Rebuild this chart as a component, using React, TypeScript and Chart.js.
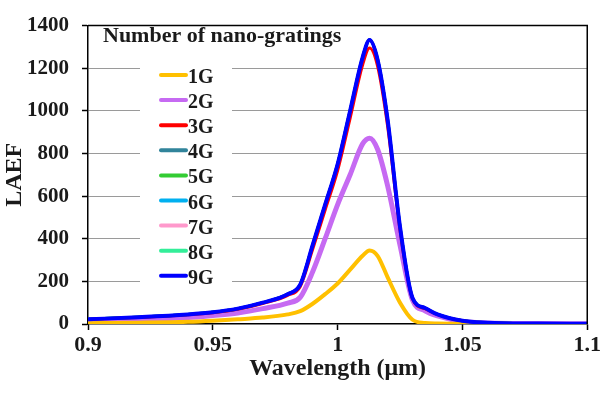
import React, { useEffect, useRef } from "react";
import { Chart, registerables } from "chart.js";

Chart.register(...registerables);

const wavelengths = [0.9, 0.92, 0.94, 0.95, 0.96, 0.97, 0.98, 0.985, 0.99, 0.995, 1.0, 1.005, 1.01, 1.0128, 1.016, 1.02, 1.025, 1.03, 1.035, 1.04, 1.05, 1.06, 1.08, 1.1];

const g1 = [4, 6, 10, 15, 22, 30, 45, 60, 95, 140, 190, 255, 320, 345, 320, 220, 100, 20, 5, 2, 1, 0.5, 0.3, 0.2];
const g2 = [13, 20, 30, 40, 52, 72, 98, 125, 245, 400, 560, 700, 845, 872, 820, 650, 370, 112, 62, 38, 12, 5, 2, 1];
const g3 = [21, 31, 43, 53, 69, 96, 134, 175, 350, 535, 720, 965, 1215, 1295, 1210, 930, 440, 118, 72, 44, 15, 6, 2, 1];
const g9 = [22, 32, 45, 55, 72, 100, 140, 185, 370, 560, 750, 1000, 1250, 1332, 1240, 960, 455, 122, 75, 45, 15, 6, 2, 1];

const seriesNames = ["1G", "2G", "3G", "4G", "5G", "6G", "7G", "8G", "9G"];
const seriesColors = ["#FFC000", "#C66AF2", "#FF0000", "#31849B", "#33CC33", "#00B0F0", "#FF99CC", "#33EE99", "#0000FF"];
const seriesValues = [g1, g2, g3, g9, g9, g9, g9, g9, g9];
const seriesWidths = [4, 5, 3, 3, 3, 3, 3, 3, 4];
const seriesOrder = [3, 3, 1, 2, 2, 2, 2, 2, 0];

const yTicks = [0, 200, 400, 600, 800, 1000, 1200, 1400];
const xTicks = [0.9, 0.95, 1, 1.05, 1.1];

const legendTitle = "Number of nano-gratings";
const xTitle = "Wavelength (\u03bcm)";
const yTitle = "LAEF";

const FONT = "'Liberation Serif', 'Times New Roman', serif";

const framePlugin = {
  id: "frameAndLegend",
  afterDraw(chart: any) {
    const { ctx, chartArea } = chart;
    const { left, right, top, bottom } = chartArea;
    ctx.save();
    ctx.strokeStyle = "#000";
    ctx.lineWidth = 1.5;
    ctx.beginPath();
    ctx.moveTo(left, top);
    ctx.lineTo(right, top);
    ctx.lineTo(right, bottom);
    ctx.stroke();
    ctx.fillStyle = "#fff";
    ctx.fillRect(140, 62, 92, 226);
    ctx.fillStyle = "#1a1a1a";
    ctx.font = `bold 22px ${FONT}`;
    ctx.textBaseline = "alphabetic";
    ctx.textAlign = "left";
    ctx.fillText(legendTitle, 103, 42);
    ctx.font = `bold 20px ${FONT}`;
    seriesNames.forEach((name, i) => {
      const y = 75 + i * 25.1;
      ctx.strokeStyle = seriesColors[i];
      ctx.lineWidth = 4;
      ctx.lineCap = "round";
      ctx.beginPath();
      ctx.moveTo(161, y);
      ctx.lineTo(186, y);
      ctx.stroke();
      ctx.fillStyle = "#1a1a1a";
      ctx.fillText(name, 188, y + 8);
    });
    ctx.restore();
  },
};

export default function App() {
  const ref = useRef<HTMLCanvasElement | null>(null);
  useEffect(() => {
    document.body.style.margin = "0";
    const canvas = ref.current!;
    const chart = new Chart(canvas, {
      type: "line",
      data: {
        datasets: seriesNames.map((name, i) => ({
          label: name,
          data: wavelengths.map((w, j) => ({ x: w, y: seriesValues[i][j] })),
          borderColor: seriesColors[i],
          backgroundColor: seriesColors[i],
          borderWidth: seriesWidths[i],
          pointRadius: 0,
          cubicInterpolationMode: "monotone" as const,
          order: seriesOrder[i],
          fill: false,
        })),
      },
      options: {
        animation: false,
        responsive: false,
        maintainAspectRatio: false,
        layout: { padding: { top: 12, right: 14, left: 0, bottom: 18 } },
        plugins: {
          legend: { display: false },
          tooltip: { enabled: false },
        },
        scales: {
          x: {
            type: "linear",
            min: 0.9,
            max: 1.1,
            afterBuildTicks: (scale: any) => {
              scale.ticks = xTicks.map((v) => ({ value: v }));
            },
            afterFit: (scale: any) => {
              scale.height = 59;
            },
            ticks: {
              color: "#1a1a1a",
              font: { family: FONT, size: 22, weight: "bold" },
              padding: 2,
              maxRotation: 0,
              autoSkip: false,
              callback: (v: any) => String(v),
            },
            grid: {
              drawOnChartArea: false,
              drawTicks: true,
              tickLength: 6,
              tickColor: "#000",
              tickWidth: 1.5,
            },
            border: { color: "#000", width: 1.5 },
            title: {
              display: true,
              text: xTitle,
              color: "#1a1a1a",
              font: { family: FONT, size: 24, weight: "bold" },
              padding: { top: 0, bottom: 0 },
            },
          },
          y: {
            type: "linear",
            min: 0,
            max: 1400,
            afterBuildTicks: (scale: any) => {
              scale.ticks = yTicks.map((v) => ({ value: v }));
            },
            afterFit: (scale: any) => {
              scale.width = 88;
            },
            ticks: {
              color: "#1a1a1a",
              font: { family: FONT, size: 21, weight: "bold" },
              padding: 13,
              callback: (v: any) => String(v),
            },
            grid: {
              color: (c: any) => (c.tick && (c.tick.value === 0 || c.tick.value === 1400) ? "rgba(0,0,0,0)" : "#9a9a9a"),
              lineWidth: 1,
              drawTicks: true,
              tickLength: 6,
              tickColor: "#000",
              tickWidth: 1.5,
            },
            border: { color: "#000", width: 1.5 },
            title: {
              display: true,
              text: yTitle,
              color: "#1a1a1a",
              font: { family: FONT, size: 24, weight: "bold" },
              padding: { top: 0, bottom: 0 },
            },
          },
        },
      },
      plugins: [framePlugin],
    });
    return () => chart.destroy();
  }, []);
  return <canvas ref={ref} width={603} height={401} style={{ display: "block", width: 603, height: 401 }} />;
}
